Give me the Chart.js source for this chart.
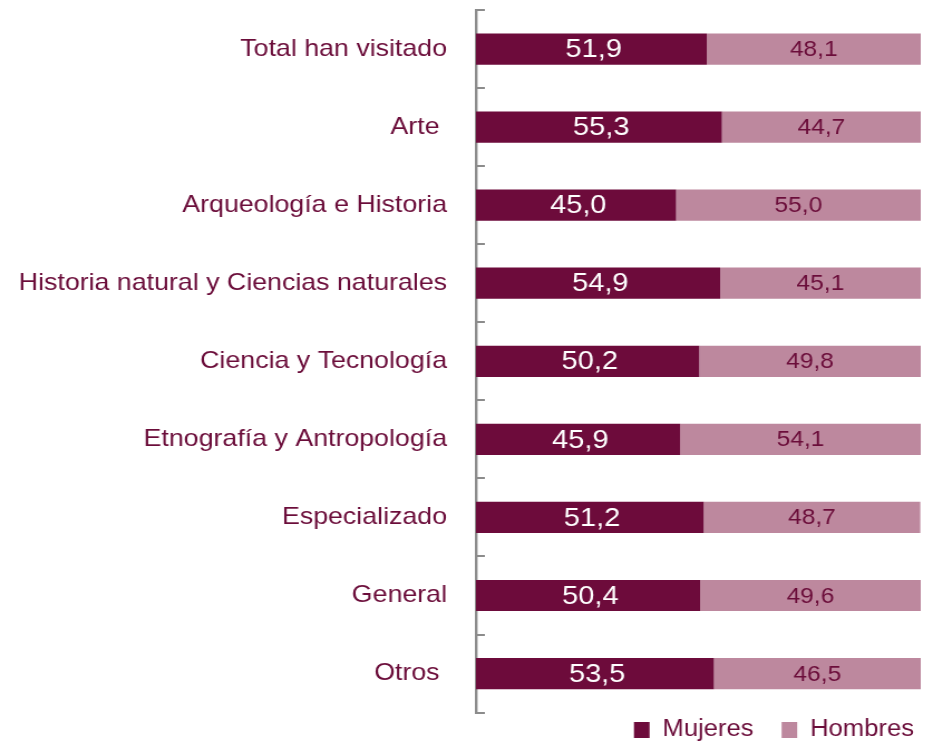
<!DOCTYPE html>
<html>
<head>
<meta charset="utf-8">
<script src="https://cdn.jsdelivr.net/npm/chart.js@4/dist/chart.umd.min.js"></script>
<style>
  html, body { margin: 0; padding: 0; background: #fff; overflow: hidden; }
  #outer { width: 933px; height: 742px; overflow: hidden; }
  #wrap { width: 837px; height: 742px; position: relative; transform: scaleX(1.1147); transform-origin: 0 0; }
</style>
</head>
<body>
<div id="outer"><div id="wrap"><canvas id="c"></canvas></div></div>
<script>
const categories = [
  "Total han visitado",
  "Arte ",
  "Arqueología e Historia",
  "Historia natural y Ciencias naturales",
  "Ciencia y Tecnología",
  "Etnografía y Antropología",
  "Especializado",
  "General",
  "Otros "
];
const mujeres = [51.9, 55.3, 45.0, 54.9, 50.2, 45.9, 51.2, 50.4, 53.5];
const hombres = [48.1, 44.7, 55.0, 45.1, 49.8, 54.1, 48.7, 49.6, 46.5];
const seriesNames = ["Mujeres", "Hombres"];

const DARK = "#6d0b3b";
const LIGHT = "#bd889e";
const TEXT = "#6b0d3a";
const FONT = "'Liberation Sans', Arial, sans-serif";

const fmt = v => v.toFixed(1).replace(".", ",");

const valueLabels = {
  id: "valueLabels",
  afterDatasetsDraw(chart) {
    const ctx = chart.ctx;
    ctx.save();
    ctx.textAlign = "center";
    ctx.textBaseline = "middle";
    chart.data.datasets.forEach((ds, di) => {
      const meta = chart.getDatasetMeta(di);
      meta.data.forEach((bar, i) => {
        const cx = (bar.x + bar.base) / 2;
        if (di === 0) {
          ctx.fillStyle = "#ffffff";
          ctx.font = "26px " + FONT;
          ctx.fillText(fmt(ds.data[i]), cx + 2, bar.y + 1);
        } else {
          ctx.fillStyle = TEXT;
          ctx.font = "22px " + FONT;
          ctx.fillText(fmt(ds.data[i]), cx, bar.y + 1);
        }
      });
    });
    ctx.restore();
  }
};

const innerTicks = {
  id: "innerTicks",
  afterDraw(chart) {
    const y = chart.scales.y;
    const ctx = chart.ctx;
    const n = chart.data.labels.length;
    const step = (y.getPixelForValue(1) - y.getPixelForValue(0));
    const x0 = y.right;
    ctx.save();
    ctx.strokeStyle = "#8c8c8c";
    ctx.lineWidth = 2;
    for (let i = 0; i <= n; i++) {
      const py = Math.round(y.getPixelForValue(0) - step / 2 + i * step);
      ctx.beginPath();
      ctx.moveTo(x0 - 1, py);
      ctx.lineTo(x0 + 8, py);
      ctx.stroke();
    }
    ctx.restore();
  }
};

new Chart(document.getElementById("c"), {
  type: "bar",
  data: {
    labels: categories,
    datasets: [
      { label: seriesNames[0], data: mujeres, backgroundColor: DARK, barPercentage: 0.4, categoryPercentage: 1 },
      { label: seriesNames[1], data: hombres, backgroundColor: LIGHT, barPercentage: 0.4, categoryPercentage: 1 }
    ]
  },
  options: {
    indexAxis: "y",
    responsive: true,
    maintainAspectRatio: false,
    animation: false,
    layout: { padding: { top: 10, right: 11, left: 0, bottom: -9.6 } },
    scales: {
      x: { stacked: true, display: false, min: 0, max: 100 },
      y: {
        stacked: true,
        grid: { display: false, drawTicks: false },
        border: { display: true, color: "#8c8c8c", width: 2.4 },
        ticks: { color: TEXT, font: { family: FONT, size: 24 }, padding: 26 },
        afterFit(scale) { scale.width = 427; scale.paddingTop = 0; scale.paddingBottom = 0; }
      }
    },
    plugins: {
      legend: {
        position: "bottom",
        align: "end",
        labels: {
          color: TEXT,
          font: { family: FONT, size: 23 },
          boxWidth: 14,
          boxHeight: 16,
          padding: 6,
          useBorderRadius: false,
          generateLabels(chart) {
            const items = Chart.defaults.plugins.legend.labels.generateLabels(chart);
            items.forEach((it, i) => {
              it.lineWidth = 0;
              if (i < items.length - 1) it.text = it.text + "\u00A0\u00A0\u00A0";
            });
            return items;
          }
        }
      },
      tooltip: { enabled: false }
    }
  },
  plugins: [valueLabels, innerTicks]
});
</script>
</body>
</html>
